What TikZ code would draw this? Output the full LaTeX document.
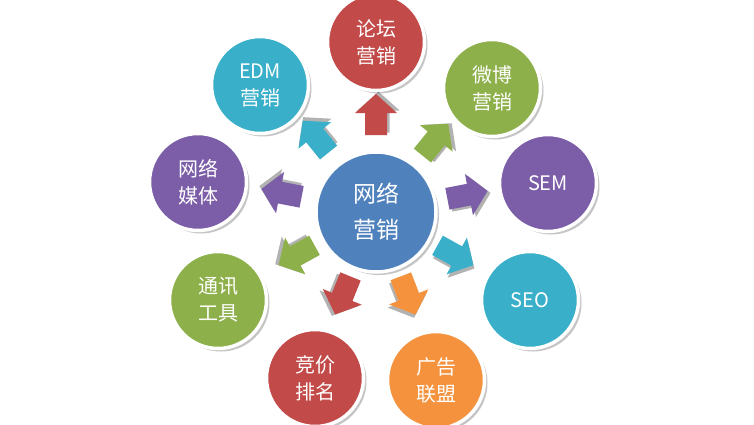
\documentclass[tikz,border=0pt]{standalone}
\usepackage{fontspec}
\setmainfont{Noto Sans CJK SC}
\usetikzlibrary{shadows}
\definecolor{cred}{HTML}{C24A48}
\definecolor{cgreen}{HTML}{8DB04A}
\definecolor{cpurple}{HTML}{7B5EA7}
\definecolor{cteal}{HTML}{3AAFC9}
\definecolor{corange}{HTML}{F5923E}
\definecolor{cblue}{HTML}{4F81BD}
\tikzset{
  outer/.style={circle,minimum size=97pt,inner sep=0pt,draw=white,line width=3.5pt,text=white,font=\fontsize{20}{27}\selectfont,align=center,drop shadow={shadow xshift=3pt,shadow yshift=-3pt,opacity=0.45}},
  center/.style={outer,minimum size=120pt,fill=cblue,font=\fontsize{23}{36}\selectfont},
}
\newcommand{\blockarr}[4]{%
  \begin{scope}[shift={(#1,#2)},rotate=#3]
   \fill[black,opacity=0.3,shift={(2.5pt,-2.5pt)}] (-20,-11)--(2,-11)--(2,-21)--(21,0)--(2,21)--(2,11)--(-20,11)--cycle;
   \fill[#4] (-20,-11)--(2,-11)--(2,-21)--(21,0)--(2,21)--(2,11)--(-20,11)--cycle;
  \end{scope}}
\begin{document}
\begin{tikzpicture}[x=1pt,y=1pt]
\useasboundingbox[fill=white] (0,0) rectangle (754,424);
\node[center] (c) at (376,212) {网络\\营销};
\node[outer,fill=cred] (a1) at (376,382) {论坛\\营销};
\node[outer,fill=cgreen] (a2) at (492,336) {微博\\营销};
\node[outer,fill=cpurple] (a3) at (548,241) {SEM};
\node[outer,fill=cteal] (a4) at (530,124) {SEO};
\node[outer,fill=corange] (a5) at (436,44) {广告\\联盟};
\node[outer,fill=cred] (a6) at (315,46) {竞价\\排名};
\node[outer,fill=cgreen] (a7) at (218,124) {通讯\\工具};
\node[outer,fill=cpurple] (a8) at (198,242) {网络\\媒体};
\node[outer,fill=cteal] (a9) at (260,339) {EDM\\营销};
\blockarr{376}{309}{90}{cred}
\blockarr{435}{284}{51}{cgreen}
\blockarr{467}{229}{11}{cpurple}
\blockarr{455}{169}{-29}{cteal}
\blockarr{408}{129}{-69}{corange}
\blockarr{343}{129}{-112}{cred}
\blockarr{297}{169}{-151}{cgreen}
\blockarr{282}{231}{169}{cpurple}
\blockarr{316}{287}{129}{cteal}
\end{tikzpicture}
\end{document}
